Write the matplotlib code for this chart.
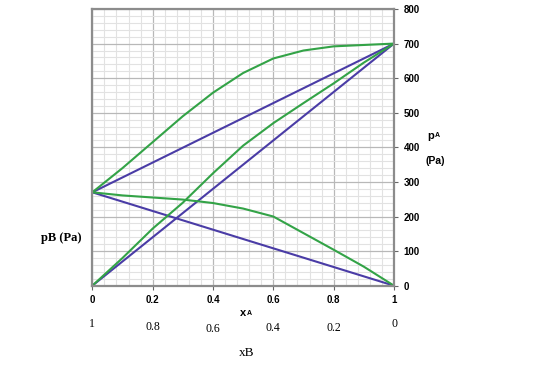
import matplotlib
matplotlib.use("Agg")
import matplotlib.pyplot as plt
import numpy as np
from matplotlib.ticker import MultipleLocator, FixedLocator

# ---- data ----
x_ends = [0, 1]
pA_ideal = [0, 700]
pB_ideal = [270, 0]
p_ideal = [270, 700]

xA = [0, 0.1, 0.2, 0.3, 0.4, 0.5, 0.6, 0.7, 0.8, 0.9, 1.0]
pA_real = [0, 80, 165, 240, 325, 405, 470, 528, 585, 645, 700]
pB_real = [270, 261, 255, 249, 239, 223, 200, 152, 104, 55, 0]
p_real = [270, 340, 415, 490, 558, 615, 657, 680, 692, 696, 700]

xA_ticks = [0, 0.2, 0.4, 0.6, 0.8, 1]
xA_ticklabels = ["0", "0.2", "0.4", "0.6", "0.8", "1"]
xB_ticklabels = ["1", "0.8", "0.6", "0.4", "0.2", "0"]
y_ticks = [0, 100, 200, 300, 400, 500, 600, 700, 800]

GREEN = "#33a347"
BLUE = "#4a3ca6"

fig = plt.figure(figsize=(5.6, 3.69), dpi=100)
ax = fig.add_axes([92.3 / 560, 1 - 285.7 / 369, (394 - 92.3) / 560, (285.7 - 9) / 369])
ax.set_xlim(0, 1)
ax.set_ylim(0, 800)

# grid
ax.xaxis.set_major_locator(FixedLocator(xA_ticks))
ax.xaxis.set_minor_locator(MultipleLocator(0.04))
ax.yaxis.set_major_locator(FixedLocator(y_ticks))
ax.yaxis.set_minor_locator(MultipleLocator(20))
ax.grid(which="minor", color="#e2e2e2", linewidth=0.8)
ax.grid(which="major", color="#b8b8b8", linewidth=0.9)
ax.set_axisbelow(True)

for s in ax.spines.values():
    s.set_color("#8c8c8c")
    s.set_linewidth(1.6)

ax.yaxis.tick_right()
ax.tick_params(which="minor", length=0)
ax.tick_params(which="major", length=3, width=0.8, color="#666666", direction="out")
ax.set_xticklabels(xA_ticklabels, fontsize=7, fontweight="bold", family="Liberation Sans")
ax.set_yticklabels([str(v) for v in y_ticks], fontsize=7, fontweight="bold", family="Liberation Sans")
ax.tick_params(axis="x", pad=4)
ax.tick_params(axis="y", pad=4)

lw = 1.5
ax.plot(x_ends, pA_ideal, color=BLUE, lw=lw)
ax.plot(x_ends, pB_ideal, color=BLUE, lw=lw)
ax.plot(x_ends, p_ideal, color=BLUE, lw=lw)
ax.plot(xA, pA_real, color=GREEN, lw=lw)
ax.plot(xA, pB_real, color=GREEN, lw=lw)
ax.plot(xA, p_real, color=GREEN, lw=lw)

# xB labels row (serif)
xb_y = [324.3, 326.7, 329.3, 328.0, 327.7, 324.3]
for xv, lab, yy in zip(xA_ticks, xB_ticklabels, xb_y):
    xp = 92.3 + xv * (394 - 92.3)
    fig.text(xp / 560, 1 - yy / 369, lab, ha="center", va="center",
             fontsize=8.5, family="Liberation Serif")

# xA label
fig.text(243 / 560, 1 - 312.5 / 369, "x", ha="center", va="center", fontsize=8,
         fontweight="bold", family="Liberation Sans")
fig.text(249 / 560, 1 - 313.5 / 369, "A", ha="center", va="center", fontsize=5,
         fontweight="bold", family="Liberation Sans")
# xB label
fig.text(246.7 / 560, 1 - 353.3 / 369, "xB", ha="center", va="center", fontsize=9.5,
         family="Liberation Serif")
# pB (Pa)
fig.text(61.7 / 560, 1 - 238.3 / 369, "pB (Pa)", ha="center", va="center", fontsize=9,
         fontweight="bold", family="Liberation Serif")
# pA (Pa)
fig.text(431 / 560, 1 - 136.5 / 369, "p", ha="center", va="center", fontsize=8,
         fontweight="bold", family="Liberation Sans")
fig.text(437.5 / 560, 1 - 135.5 / 369, "A", ha="center", va="center", fontsize=5,
         fontweight="bold", family="Liberation Sans")
fig.text(435 / 560, 1 - 161 / 369, "(Pa)", ha="center", va="center", fontsize=7.5,
         fontweight="bold", family="Liberation Sans")

fig.savefig("out.png", dpi=100)
